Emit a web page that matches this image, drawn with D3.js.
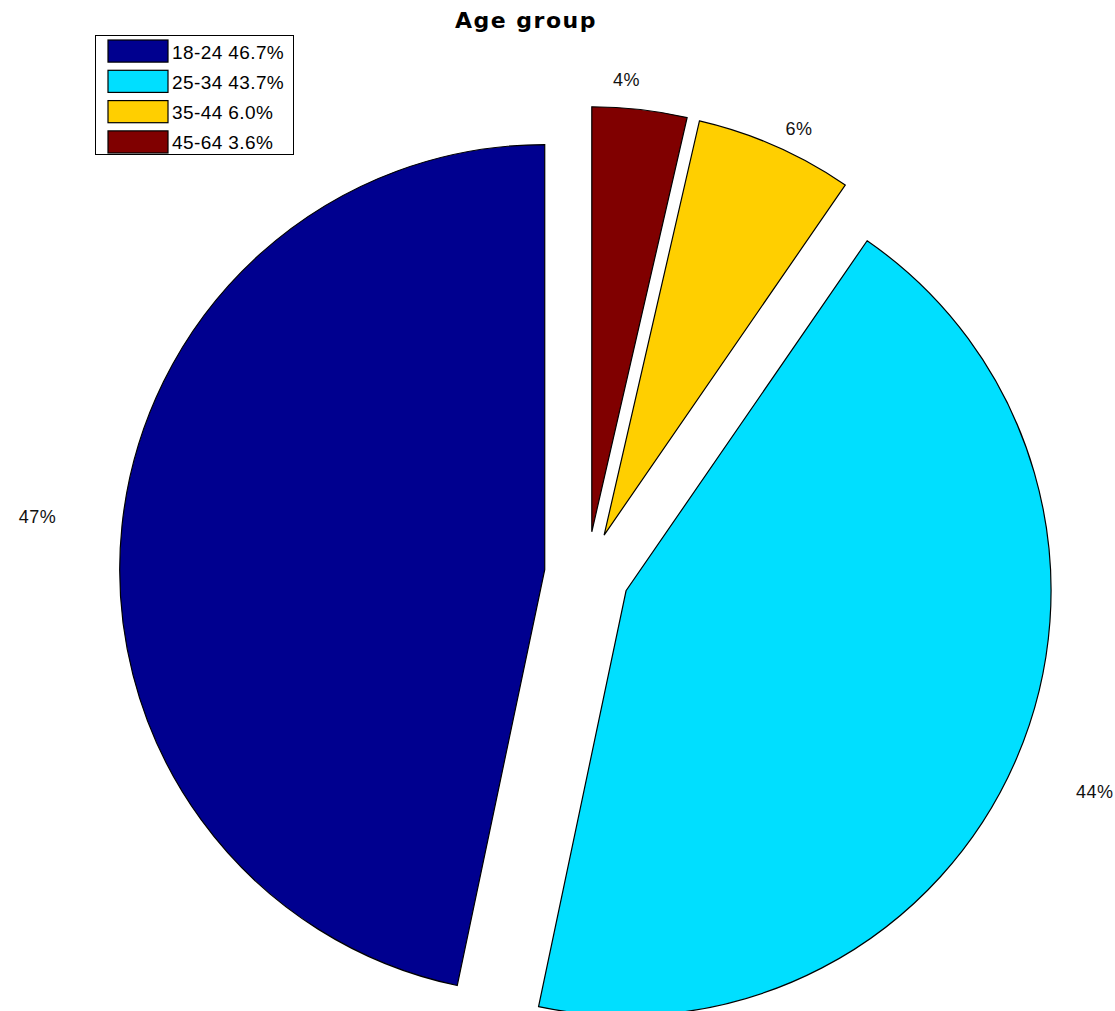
<!DOCTYPE html>
<html>
<head>
<meta charset="utf-8">
<script src="https://cdn.jsdelivr.net/npm/d3@7"></script>
<style>
html,body{margin:0;padding:0;background:#fff;}
svg{display:block;}
</style>
</head>
<body>
<svg id="chart" width="1115" height="1011"></svg>
<script>
// ---- data ----
const categories = ["18-24", "25-34", "35-44", "45-64"];
const values = [46.7, 43.7, 6.0, 3.6];
const pctLabels = ["47%", "44%", "6%", "4%"];
const legendLabels = ["18-24 46.7%", "25-34 43.7%", "35-44 6.0%", "45-64 3.6%"];
const colors = ["#00008F", "#00DFFF", "#FFCF00", "#800000"];
const title = "Age group";

// ---- layout ----
const W = 1115, H = 1011;
const cx = 587, cy = 574, R = 425;
const explodeFrac = 0.1;
const labelFrac = [1.3, 1.3, 1.16, 1.165];
const labelTurn = [0, 0, 1.7, -1.9]; // degrees

const svg = d3.select("#chart");
const rScale = d3.scaleLinear().domain([0, 1]).range([0, R]);

const pie = d3.pie().sort(null).value(d => d).startAngle(0).endAngle(-2 * Math.PI);
const arcs = pie(values);
const arc = d3.arc().innerRadius(0).outerRadius(rScale(1));

const g = svg.append("g").attr("transform", `translate(${cx},${cy})`);

arcs.forEach((a, i) => {
  const mid = (a.startAngle + a.endAngle) / 2;
  const ex = Math.sin(mid) * rScale(explodeFrac);
  const ey = -Math.cos(mid) * rScale(explodeFrac);
  g.append("path")
    .attr("d", arc(a))
    .attr("transform", `translate(${ex},${ey})`)
    .attr("fill", colors[i])
    .attr("stroke", "#000")
    .attr("stroke-width", 1.2)
    .attr("stroke-linejoin", "miter");
  const la = mid + labelTurn[i] * Math.PI / 180;
  g.append("text")
    .attr("x", Math.sin(la) * rScale(labelFrac[i]))
    .attr("y", -Math.cos(la) * rScale(labelFrac[i]))
    .attr("text-anchor", "middle")
    .attr("dominant-baseline", "central")
    .attr("font-family", "Liberation Sans, Arial, sans-serif")
    .attr("font-size", 18)
    .attr("letter-spacing", 0.5)
    .attr("fill", "#111")
    .text(pctLabels[i]);
});

// title
svg.append("text")
  .attr("x", 526).attr("y", 28)
  .attr("text-anchor", "middle")
  .attr("font-family", "DejaVu Sans, sans-serif")
  .attr("font-weight", "bold")
  .attr("font-size", 22)
  .attr("letter-spacing", 1.5)
  .attr("fill", "#000")
  .text(title);

// legend
const lg = svg.append("g").attr("transform", "translate(95,35)");
lg.append("rect").attr("x", 0.5).attr("y", 0.5).attr("width", 198).attr("height", 119)
  .attr("fill", "#fff").attr("stroke", "#000").attr("stroke-width", 1);
const rowY = d3.scaleBand().domain(categories).range([5, 118]).paddingInner(0.27).paddingOuter(0);
categories.forEach((c, i) => {
  lg.append("rect")
    .attr("x", 13).attr("y", rowY(c))
    .attr("width", 60).attr("height", rowY.bandwidth())
    .attr("fill", colors[i]).attr("stroke", "#000").attr("stroke-width", 1.2);
  lg.append("text")
    .attr("x", 77).attr("y", rowY(c) + rowY.bandwidth() / 2 + 1)
    .attr("dominant-baseline", "central")
    .attr("font-family", "Liberation Sans, Arial, sans-serif")
    .attr("font-size", 19)
    .attr("letter-spacing", 0.4)
    .attr("fill", "#000")
    .text(legendLabels[i]);
});
</script>
</body>
</html>
